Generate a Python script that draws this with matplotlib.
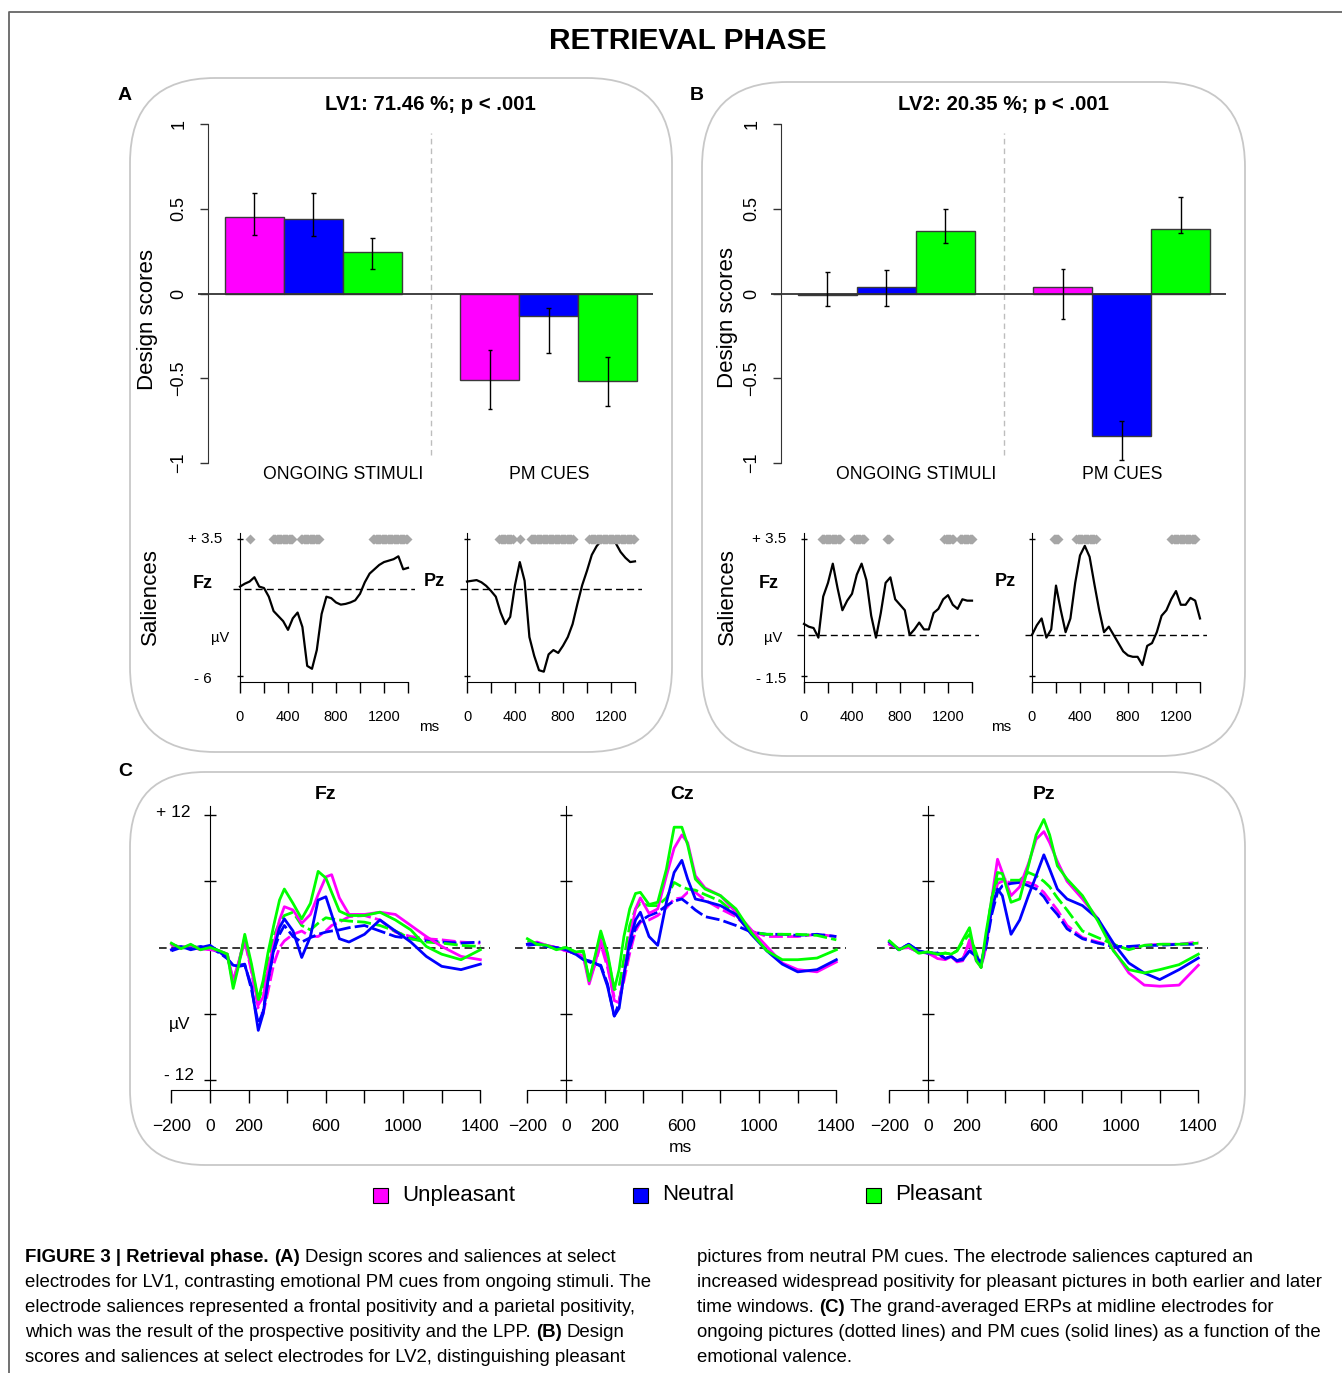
import numpy as np
import matplotlib
matplotlib.use("Agg")
import matplotlib.pyplot as plt
from matplotlib.patches import FancyBboxPatch, Rectangle

plt.rcParams['font.family'] = ['Liberation Sans', 'DejaVu Sans']

# ---------------- data ----------------
VALENCES = ['Unpleasant', 'Neutral', 'Pleasant']
COLORS = ['#ff00ff', '#0000ff', '#00ff00']
GROUPS = ['ONGOING STIMULI', 'PM CUES']

# design scores: ongoing (unpl, neu, pleas), PM cues (unpl, neu, pleas)
LV1_SCORES = [0.455, 0.441, 0.246, -0.508, -0.134, -0.514]
LV1_LOW = [0.346, 0.339, 0.148, -0.683, -0.352, -0.661]
LV1_HIGH = [0.596, 0.596, 0.327, -0.331, -0.083, -0.372]
LV2_SCORES = [-0.006, 0.041, 0.372, 0.041, -0.843, 0.384]
LV2_LOW = [-0.073, -0.073, 0.297, -0.152, -0.982, 0.356]
LV2_HIGH = [0.128, 0.140, 0.498, 0.148, -0.750, 0.569]

# electrode saliences (ms, every 40 ms)
SAL_T = [0, 40, 80, 120, 160, 200, 240, 280, 320, 360, 400, 440, 480, 520, 560, 600, 640, 680,
         720, 760, 800, 840, 880, 920, 960, 1000, 1040, 1080, 1120, 1160, 1200, 1240, 1280, 1320, 1360, 1400]
LV1_FZ = [0.2, 0.4, 0.55, 0.85, 0.2, 0.1, -0.5, -1.5, -1.85, -2.2, -2.8, -2.0, -1.6, -2.6, -5.3, -5.5, -4.2, -1.7,
          -0.5, -0.6, -0.9, -1.05, -1.0, -0.9, -0.75, -0.3, 0.5, 1.1, 1.4, 1.7, 1.9, 2.0, 2.1, 2.3, 1.4, 1.5]
LV1_PZ = [0.55, 0.6, 0.65, 0.5, 0.25, -0.1, -0.5, -1.6, -2.4, -1.9, 0.3, 1.9, 0.6, -3.3, -4.6, -5.6, -5.7, -4.5,
          -4.2, -4.4, -3.9, -3.3, -2.4, -1.0, 0.3, 1.3, 2.4, 3.0, 3.4, 3.6, 3.5, 3.2, 2.6, 2.2, 1.9, 1.95]
LV2_FZ = [0.4, 0.3, 0.25, -0.1, 1.4, 1.9, 2.6, 1.7, 0.9, 1.25, 1.5, 2.2, 2.6, 2.0, 0.7, -0.1, 0.8, 1.9,
          2.1, 1.3, 1.1, 0.9, 0.0, 0.2, 0.45, 0.2, 0.2, 0.8, 0.95, 1.3, 1.45, 1.1, 0.95, 1.3, 1.25, 1.25]
LV2_PZ = [0.0, 0.35, 0.6, -0.1, 0.2, 1.8, 0.9, 0.1, 0.6, 1.9, 2.9, 3.25, 2.85, 1.85, 0.9, 0.1, 0.3, 0.0,
          -0.3, -0.6, -0.75, -0.8, -0.8, -1.1, -0.4, -0.3, 0.1, 0.7, 0.9, 1.3, 1.6, 1.1, 1.1, 1.35, 1.25, 0.6]

# significant time windows (ms)
LV1_FZ_SIG = [(80, 80), (275, 440), (510, 660), (1110, 1395)]
LV1_PZ_SIG = [(270, 385), (440, 440), (530, 880), (1020, 1390)]
LV2_FZ_SIG = [(150, 300), (420, 505), (690, 710), (1170, 1245), (1300, 1400)]
LV2_PZ_SIG = [(180, 225), (370, 535), (1160, 1365)]

# grand-averaged ERPs (uV)
ERP_T = [-200, -150, -100, -50, 0, 50, 90, 120, 150, 180, 215, 250, 275, 300, 330, 360, 385, 430, 475,
         520, 560, 600, 630, 670, 720, 800, 880, 960, 1040, 1120, 1200, 1300, 1400]
FZ_PM = [
    [0.3, 0.0, 0.2, -0.1, -0.2, -0.3, -0.6, -3.0, -1.2, 0.8, -2.0, -5.2, -4.5, -2.0, 0.3, 2.5, 3.7, 3.4, 2.2,
     3.0, 4.8, 6.4, 6.6, 4.5, 3.0, 3.0, 3.2, 3.0, 2.0, 1.0, 0.1, -0.8, -1.1],
    [-0.2, 0.1, -0.2, 0.0, 0.2, -0.4, -1.0, -1.6, -1.7, -1.6, -3.5, -7.5, -6.0, -3.0, -0.2, 1.8, 2.6, 1.5, -0.9,
     1.0, 4.3, 4.6, 3.0, 0.8, 0.5, 1.2, 2.5, 1.5, 0.5, -0.8, -1.7, -2.0, -1.5],
    [0.4, -0.1, 0.3, -0.2, 0.0, -0.3, -0.6, -3.7, -1.5, 1.2, -1.5, -4.7, -3.0, -0.5, 2.0, 4.3, 5.3, 4.0, 2.6,
     4.0, 6.9, 6.3, 5.0, 3.3, 2.9, 2.9, 3.2, 2.5, 1.6, 0.1, -0.6, -1.1, -0.2],
]
FZ_ONG = [
    [0.2, 0.0, 0.1, -0.2, -0.1, -0.4, -0.8, -3.0, -1.4, 0.6, -2.2, -5.5, -6.0, -4.0, -1.5, 0.0, 0.6, 1.2, 1.5,
     1.0, 1.0, 1.5, 2.0, 2.3, 2.8, 2.9, 2.5, 1.4, 1.0, 0.8, 0.7, 0.5, 0.4],
    [-0.3, 0.0, -0.1, 0.1, 0.0, -0.5, -1.0, -1.7, -1.6, -1.5, -3.8, -6.9, -5.8, -3.0, -0.3, 1.2, 2.0, 1.0, 0.5,
     0.9, 1.2, 1.4, 1.5, 1.6, 1.8, 2.0, 1.5, 1.0, 0.8, 0.6, 0.5, 0.4, 0.5],
    [0.3, 0.0, 0.2, -0.1, 0.0, -0.3, -0.6, -3.3, -1.3, 0.9, -1.8, -4.9, -3.5, -1.0, 1.0, 2.3, 2.9, 3.2, 2.0,
     1.6, 2.2, 2.7, 2.6, 2.5, 2.4, 2.3, 2.0, 1.5, 0.8, 0.5, 0.4, 0.2, 0.1],
]
CZ_PM = [
    [0.3, 0.5, 0.2, 0.0, -0.3, -0.5, -0.8, -3.3, -1.5, 0.7, -1.5, -4.8, -5.0, -2.5, 0.8, 3.5, 4.5, 3.1, 3.5,
     6.5, 9.0, 10.2, 9.5, 6.5, 5.4, 4.7, 3.2, 1.6, 0.1, -1.4, -2.0, -2.2, -1.3],
    [0.3, 0.4, 0.1, 0.0, -0.2, -0.6, -1.1, -1.2, -1.4, -1.7, -3.5, -6.2, -5.5, -2.5, 0.5, 2.5, 3.2, 1.0, 0.2,
     4.1, 6.8, 7.9, 6.2, 4.4, 4.2, 3.8, 3.0, 1.2, -0.3, -1.5, -2.2, -2.0, -1.1],
    [0.8, 0.3, 0.2, -0.2, 0.0, -0.4, -0.3, -3.0, -0.8, 1.5, -0.5, -3.8, -2.0, 1.0, 3.5, 4.9, 5.0, 3.9, 4.1,
     7.1, 10.9, 10.9, 9.3, 6.2, 5.3, 4.7, 3.5, 1.35, -0.3, -1.1, -1.1, -0.95, -0.2],
]
CZ_ONG = [
    [0.3, 0.4, 0.2, 0.0, -0.3, -0.5, -0.8, -3.0, -1.5, 0.3, -1.8, -4.5, -4.75, -3.0, -0.5, 1.5, 2.3, 2.5, 2.9,
     3.6, 4.4, 4.5, 5.0, 5.0, 4.3, 3.5, 2.8, 1.5, 1.0, 1.0, 1.0, 1.2, 1.0],
    [0.2, 0.3, 0.1, 0.0, -0.2, -0.6, -1.0, -1.3, -1.5, -1.6, -3.3, -6.2, -5.0, -2.5, 0.0, 1.8, 2.4, 2.9, 3.2,
     3.8, 4.2, 4.4, 4.0, 3.4, 2.8, 2.5, 2.0, 1.4, 1.2, 1.2, 1.1, 1.2, 1.0],
    [0.6, 0.3, 0.2, -0.1, 0.0, -0.4, -0.4, -3.0, -1.0, 1.2, -0.8, -3.8, -3.5, -1.0, 2.0, 3.5, 4.0, 3.8, 3.8,
     4.5, 5.9, 5.5, 5.3, 5.2, 4.8, 4.2, 3.0, 1.4, 1.2, 1.2, 1.2, 1.1, 0.7],
]
PZ_PM = [
    [0.3, -0.1, 0.0, -0.4, -0.5, -1.0, -1.1, -0.8, -1.3, -1.2, 0.7, -1.2, -1.7, 0.5, 4.4, 8.0, 6.8, 4.7, 5.5,
     7.6, 9.8, 10.5, 9.5, 7.8, 6.0, 4.4, 2.6, -0.2, -2.3, -3.4, -3.5, -3.4, -1.6],
    [0.5, -0.2, 0.3, -0.3, -0.5, -0.5, -1.0, -0.8, -1.2, -1.1, -0.3, -0.8, -1.4, 0.5, 3.5, 5.3, 4.7, 1.2, 2.5,
     4.7, 6.5, 8.4, 7.1, 5.3, 4.4, 3.8, 2.6, 0.4, -1.4, -2.3, -2.9, -2.0, -0.95],
    [0.6, -0.2, 0.2, -0.5, -0.4, -0.6, -0.5, -0.6, -0.3, 0.7, 1.8, -1.2, -1.8, 1.3, 4.4, 6.8, 6.7, 4.1, 4.4,
     7.4, 10.2, 11.6, 10.2, 7.4, 6.2, 4.7, 2.4, -0.3, -2.0, -2.3, -2.0, -1.55, -0.6],
]
PZ_ONG = [
    [0.3, -0.1, 0.0, -0.4, -0.5, -0.9, -1.0, -0.8, -1.2, -1.0, 0.3, -1.0, -1.8, 0.0, 3.5, 5.8, 6.0, 5.9, 5.9,
     5.9, 5.6, 5.0, 4.3, 3.4, 2.0, 0.9, 0.5, 0.1, 0.0, 0.2, 0.3, 0.3, 0.5],
    [0.5, -0.2, 0.3, -0.3, -0.5, -0.5, -1.0, -0.8, -1.2, -1.0, -0.3, -0.8, -1.5, 0.0, 3.0, 5.0, 5.6, 5.8, 5.9,
     5.6, 5.3, 4.6, 3.8, 3.0, 1.7, 0.8, 0.4, 0.1, 0.1, 0.2, 0.2, 0.3, 0.3],
    [0.6, -0.2, 0.2, -0.5, -0.4, -0.6, -0.5, -0.6, -0.3, 0.5, 1.2, -0.5, -1.8, 0.8, 4.5, 6.2, 6.2, 6.1, 6.1,
     6.8, 6.5, 6.0, 5.5, 4.5, 3.4, 1.5, 0.9, 0.3, -0.2, 0.2, 0.3, 0.3, 0.4],
]

CAPTION_LEFT = [
    [('FIGURE 3 | Retrieval phase.', 'bold'), ('(A)', 'bold'), ('Design scores and saliences at select', 'normal')],
    [('electrodes for LV1, contrasting emotional PM cues from ongoing stimuli. The', 'normal')],
    [('electrode saliences represented a frontal positivity and a parietal positivity,', 'normal')],
    [('which was the result of the prospective positivity and the LPP.', 'normal'), ('(B)', 'bold'),
     ('Design', 'normal')],
    [('scores and saliences at select electrodes for LV2, distinguishing pleasant', 'normal')],
]
CAPTION_RIGHT = [
    [('pictures from neutral PM cues. The electrode saliences captured an', 'normal')],
    [('increased widespread positivity for pleasant pictures in both earlier and later', 'normal')],
    [('time windows.', 'normal'), ('(C)', 'bold'), ('The grand-averaged ERPs at midline electrodes for', 'normal')],
    [('ongoing pictures (dotted lines) and PM cues (solid lines) as a function of the', 'normal')],
    [('emotional valence.', 'normal')],
]

# ---------------- figure ----------------
W, H = 1342, 1373
fig = plt.figure(figsize=(W / 100, H / 100), dpi=100)


def axes_at(left, top, right, bottom):
    return fig.add_axes([left / W, 1 - bottom / H, (right - left) / W, (bottom - top) / H])


bg = axes_at(0, 0, W, H)
bg.set_xlim(0, W)
bg.set_ylim(H, 0)
bg.axis('off')

# outer frame and rounded panel boxes
bg.plot([9, 9, W], [H, 12, 12], color='#666666', lw=1.3)
for (x0, y0, x1, y1, r) in [(130, 78, 672, 752, 85), (702, 82, 1245, 756, 85), (130, 772, 1245, 1165, 75)]:
    bg.add_patch(FancyBboxPatch((x0, y0), x1 - x0, y1 - y0, boxstyle=f"round,pad=0,rounding_size={r}",
                                fc='none', ec='#c8c8c8', lw=1.3))

bg.text(688, 41, 'RETRIEVAL PHASE', ha='center', va='center', fontsize=21.5, fontweight='bold')
bg.text(125, 96, 'A', ha='center', va='center', fontsize=14, fontweight='bold')
bg.text(697, 96, 'B', ha='center', va='center', fontsize=14, fontweight='bold')
bg.text(125, 772, 'C', ha='center', va='center', fontsize=14, fontweight='bold')


def design_panel(x_off, scores, low, high, title):
    ax = axes_at(198 + x_off, 115, 653 + x_off, 470)
    ax.patch.set_alpha(0)
    ax.set_xlim(0.541, 8.272)
    ax.set_ylim(-1.0413, 1.0549)
    pos = np.array([1.5, 2.5, 3.5, 5.5, 6.5, 7.5])
    ax.bar(pos, scores, width=1.0, color=COLORS * 2, edgecolor='#3a3a3a', linewidth=1.0, zorder=2)
    ax.axhline(0, color='#333333', lw=1.3, zorder=3)
    ax.vlines(pos, low, high, color='black', lw=1.0, zorder=4)
    ax.hlines(low, pos - 0.04, pos + 0.04, color='black', lw=1.0, zorder=4)
    ax.hlines(high, pos - 0.04, pos + 0.04, color='black', lw=1.0, zorder=4)
    ax.vlines(4.5, -0.95, 0.95, colors='#bdbdbd', linestyles=(0, (4, 3)), lw=1.0)
    for s in ['top', 'right', 'bottom']:
        ax.spines[s].set_visible(False)
    ax.spines['left'].set_position(('data', 0.711))
    ax.spines['left'].set_bounds(-1, 1)
    ax.spines['left'].set_color('#333333')
    ax.set_xticks([])
    ax.set_yticks([-1, -0.5, 0, 0.5, 1])
    ax.set_yticklabels(['\u22121', '\u22120.5', '0', '0.5', '1'], rotation=90, va='center', fontsize=13)
    ax.tick_params(axis='y', length=6, width=1, pad=9, color='#333333')
    ax.text(3.0, -1.068, GROUPS[0], ha='center', va='center', fontsize=12.7)
    ax.text(6.5, -1.068, GROUPS[1], ha='center', va='center', fontsize=12.7)
    bg.text(430 + x_off, 104, title, ha='center', va='center', fontsize=14.7, fontweight='bold')
    return ax


design_panel(0, LV1_SCORES, LV1_LOW, LV1_HIGH, 'LV1: 71.46 %; p < .001')
design_panel(573, LV2_SCORES, LV2_LOW, LV2_HIGH, 'LV2: 20.35 %; p < .001')
bg.text(148, 320, 'Design scores', rotation=90, ha='center', va='center', fontsize=16)
bg.text(727, 318, 'Design scores', rotation=90, ha='center', va='center', fontsize=16)


def salience_axes(x0, vals, sig, ylo, yhi, lo_label=None):
    k = 0.12
    ax = axes_at(x0 - 60 * k, 533, x0 + 1460 * k, 682)
    ax.patch.set_alpha(0)
    ppu = 137.0 / (yhi - ylo)
    y0, y1 = ylo - 6 / ppu, yhi + 6 / ppu
    ax.set_xlim(-60, 1460)
    ax.set_ylim(y0, y1)
    ax.axhline(0, color='black', lw=1.0, ls=(0, (5, 3)))
    ax.plot(SAL_T, vals, color='black', lw=1.6, zorder=3)
    for a, b in sig:
        ts = np.arange(a, b + 1, 10)
        ax.plot(ts, [yhi] * len(ts), ls='none', marker='D', ms=5.5, color='#a6a6a6', mec='none',
                clip_on=False, zorder=4)
    for s in ['top', 'right']:
        ax.spines[s].set_visible(False)
    ax.spines['left'].set_position(('data', 0))
    ax.spines['bottom'].set_bounds(0, 1400)
    ax.set_xticks(range(0, 1401, 200))
    ax.set_xticklabels(['0', '', '400', '', '800', '', '1200', ''], fontsize=10.5)
    ax.tick_params(axis='x', length=8, width=1, pad=12)
    ax.set_yticks([ylo, yhi])
    ax.set_yticklabels([])
    ax.tick_params(axis='y', length=5, width=1, direction='inout')
    if lo_label:
        ax.text(-150, yhi, '+ 3.5', ha='right', va='center', fontsize=11)
        ax.text(-150 if lo_label == '- 1.5' else -233, ylo - 0.3 / ppu * 10, lo_label,
                ha='right', va='center', fontsize=11)
    return ax


salience_axes(240, LV1_FZ, LV1_FZ_SIG, -6, 3.5, '- 6')
salience_axes(467, LV1_PZ, LV1_PZ_SIG, -6, 3.5)
salience_axes(804, LV2_FZ, LV2_FZ_SIG, -1.5, 3.5, '- 1.5')
salience_axes(1032, LV2_PZ, LV2_PZ_SIG, -1.5, 3.5)

for x, xfz, xpz, xuv, xms in [(150, 203, 434, 220, 429), (727, 769, 1005, 773, 1001)]:
    bg.text(x, 597, 'Saliences', rotation=90, ha='center', va='center', fontsize=16)
    bg.text(xfz, 583, 'Fz', ha='center', va='center', fontsize=13, fontweight='bold')
    bg.text(xpz, 581, 'Pz', ha='center', va='center', fontsize=13, fontweight='bold')
    bg.text(xuv, 638, '\u00b5V', ha='center', va='center', fontsize=10.5)
    bg.text(xms, 727, 'ms', ha='center', va='center', fontsize=11)


def erp_axes(x0, name, pm, ong, left_labels=False):
    k = 0.1931
    ax = axes_at(x0 - 265 * k, 806, x0 + 1450 * k, 1090)
    ax.patch.set_alpha(0)
    ax.set_xlim(-265, 1450)
    ax.set_ylim(-12.9, 12.82)
    ax.axhline(0, color='black', lw=1.1, ls=(0, (5, 3)), zorder=1)
    for vals, c in zip(ong, COLORS):
        ax.plot(ERP_T, vals, color=c, lw=2.0, ls=(0, (5, 1.5)), zorder=2)
    for vals, c in zip(pm, COLORS):
        ax.plot(ERP_T, vals, color=c, lw=2.0, zorder=3)
    for s in ['top', 'right']:
        ax.spines[s].set_visible(False)
    ax.spines['left'].set_position(('data', 0))
    ax.spines['bottom'].set_bounds(-200, 1400)
    ax.set_xticks(range(-200, 1401, 200))
    ax.set_xticklabels(['\u2212200', '0', '200', '', '600', '', '1000', '', '1400'], fontsize=12.5)
    ax.tick_params(axis='x', length=9, width=1, pad=12)
    ax.set_yticks([-12, -6, 6, 12])
    ax.set_yticklabels([])
    ax.tick_params(axis='y', length=8, width=1, direction='inout')
    ax.text(600, 13.85, name, ha='center', va='center', fontsize=14, fontweight='bold')
    if left_labels:
        ax.text(-100, 12.2, '+ 12', ha='right', va='center', fontsize=12.5)
        ax.text(-85, -11.6, '- 12', ha='right', va='center', fontsize=12.5)
        ax.text(-155, -7.0, '\u00b5V', ha='center', va='center', fontsize=12.5)
    return ax


erp_axes(210, 'Fz', FZ_PM, FZ_ONG, left_labels=True)
erp_axes(566, 'Cz', CZ_PM, CZ_ONG)
erp_axes(928, 'Pz', PZ_PM, PZ_ONG)
bg.text(680, 1148, 'ms', ha='center', va='center', fontsize=12.5)

# legend
for xs, label, c in zip([380, 640, 873], VALENCES, COLORS):
    bg.add_patch(Rectangle((xs - 7.5, 1187.5), 15, 15, fc=c, ec='black', lw=0.8))
    bg.text(xs + 22, 1195, label, ha='left', va='center', fontsize=16)

# caption
renderer = fig.canvas.get_renderer()


def rich_line(x, y, parts, size=13.4):
    space = 0.278 * size * 100 / 72
    for s, w in parts:
        t = bg.text(x, y, s, fontsize=size, fontweight=w, ha='left', va='baseline')
        x += t.get_window_extent(renderer=renderer).width + space


for i, parts in enumerate(CAPTION_LEFT):
    rich_line(25, 1262 + 25 * i, parts)
for i, parts in enumerate(CAPTION_RIGHT):
    rich_line(697, 1262 + 25 * i, parts)

fig.savefig('out.png', dpi=100)
